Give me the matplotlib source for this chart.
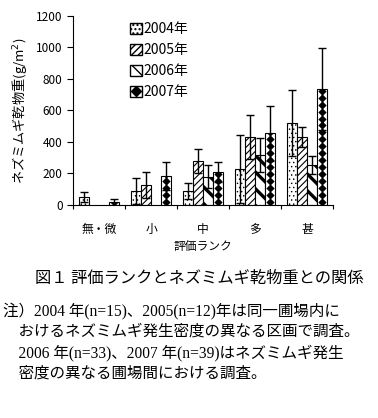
import matplotlib
matplotlib.use("Agg")
import matplotlib.pyplot as plt
import numpy as np
from matplotlib.patches import Patch
from matplotlib.lines import Line2D
from matplotlib.legend_handler import HandlerTuple

plt.rcParams['font.family'] = ['Noto Sans CJK JP', 'DejaVu Sans']

categories = ['無・微', '小', '中', '多', '甚']
years = ['2004年', '2005年', '2006年', '2007年']
v2004 = [49, 89, 89, 228, 520]
e2004 = [31, 80, 50, 214, 209]
v2005 = [0, 127, 277, 431, 431]
e2005 = [0, 80, 76, 137, 61]
v2006 = [0, 0, 180, 317, 254]
e2006 = [0, 0, 71, 106, 57]
v2007 = [17, 184, 207, 454, 735]
e2007 = [21, 86, 63, 174, 258]
yticks = [0, 200, 400, 600, 800, 1000, 1200]

values = [v2004, v2005, v2006, v2007]
errors = [e2004, e2005, e2006, e2007]
hatches = ['....', '/////', '\\\\', None]
hatch_lw = [0.5, 0.8, 2.4, 1.0]

fig = plt.figure(figsize=(3.78, 4.18), dpi=100)
ax = fig.add_axes([0.193, 0.5096, 0.688, 0.453])

x = np.arange(len(categories))
w = 0.19
for i in range(4):
    pos = x + (i - 1.5) * w
    vals = np.array(values[i], dtype=float)
    errs = np.array(errors[i], dtype=float)
    mask = vals > 0
    with plt.rc_context({'hatch.linewidth': hatch_lw[i]}):
        bars = ax.bar(pos[mask], vals[mask], w, color='white', edgecolor='black',
                      linewidth=0.8, hatch=hatches[i], zorder=2)
        if i == 3:
            for b, v, p in zip(bars, vals[mask], pos[mask]):
                ys = np.arange(20, v + 25, 44)
                sc = ax.scatter(np.full(len(ys), p), ys, marker='D', s=18,
                                color='black', zorder=3, linewidths=0)
                sc.set_clip_path(b)
    ax.errorbar(pos[mask], vals[mask], yerr=errs[mask], fmt='none',
                ecolor='black', elinewidth=1, capsize=3, capthick=1, zorder=4)

ax.set_xlim(-0.5, len(categories) - 0.5)
ax.set_ylim(0, 1200)
ax.set_yticks(yticks)
ax.set_yticklabels([str(t) for t in yticks], fontsize=8.5)
ax.set_xticks(np.arange(len(categories) + 1) - 0.5, minor=False)
ax.set_xticklabels([])
ax.set_xticks(x, minor=True)
ax.set_xticklabels(categories, minor=True, fontsize=8.5)
ax.tick_params(axis='x', which='major', direction='out', length=3)
ax.tick_params(axis='x', which='minor', length=0, pad=13)
ax.tick_params(axis='y', direction='out', length=4)
for s in ['top', 'right']:
    ax.spines[s].set_visible(False)
ax.set_xlabel('評価ランク', fontsize=8.5, labelpad=3)
ax.set_ylabel('ネズミムギ乾物重(g/m$^2$)', fontsize=9.5, labelpad=5)

handles = []
with plt.rc_context({'hatch.linewidth': 0.5}):
    handles.append(Patch(facecolor='white', edgecolor='black', hatch='....'))
with plt.rc_context({'hatch.linewidth': 0.8}):
    handles.append(Patch(facecolor='white', edgecolor='black', hatch='/////'))
with plt.rc_context({'hatch.linewidth': 2.0}):
    handles.append(Patch(facecolor='white', edgecolor='black', hatch='\\\\'))
handles.append((Patch(facecolor='white', edgecolor='black'),
                Line2D([], [], marker='D', color='black', linestyle='none', markersize=5)))
ax.legend(handles, years, loc='upper left', bbox_to_anchor=(0.17, 1.03),
          frameon=False, fontsize=10, handlelength=0.9, handleheight=0.9,
          handletextpad=0.1, labelspacing=0.5,
          handler_map={tuple: HandlerTuple(ndivide=1)})

fam = ['Liberation Serif', 'Noto Sans CJK JP']
fig.text(0.093, 0.335, '図１ 評価ランクとネズミムギ乾物重との関係', fontsize=11.7,
         family=['Noto Sans CJK JP'], va='center')
notes = ['注）2004 年(n=15)、2005(n=12)年は同一圃場内に',
         '　おけるネズミムギ発生密度の異なる区画で調査。',
         '　2006 年(n=33)、2007 年(n=39)はネズミムギ発生',
         '　密度の異なる圃場間における調査。']
ys = [0.2536, 0.2057, 0.1555, 0.1053]
for t, yy in zip(notes, ys):
    fig.text(0.008, yy, t, fontsize=11.2, family=fam, va='center')

fig.savefig('out.png', dpi=100)
